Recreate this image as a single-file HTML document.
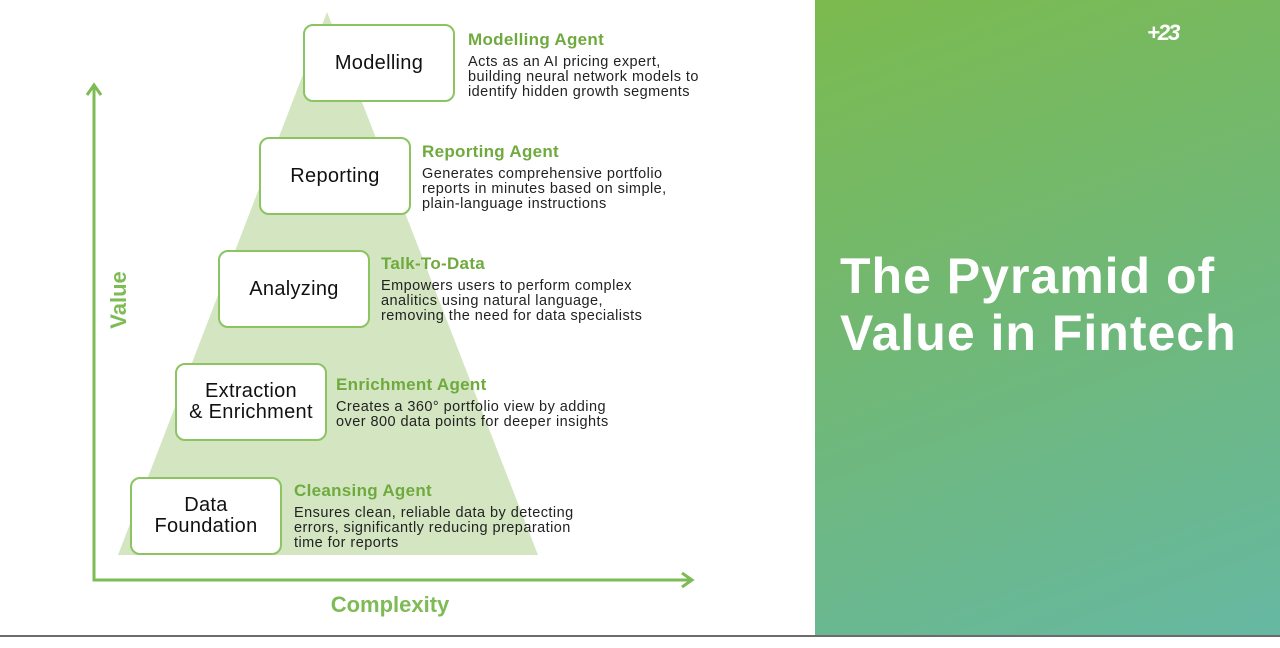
<!DOCTYPE html>
<html><head><style>
body{margin:0;width:1280px;height:648px;position:relative;background:#fff;font-family:"Liberation Sans",sans-serif;overflow:hidden}
.box{position:absolute;width:148px;height:74px;border:2px solid #8cc462;border-radius:10px;background:#fff;display:flex;align-items:center;justify-content:center;text-align:center;font-size:20px;color:#111;line-height:21px;letter-spacing:0.3px}
.t{position:absolute;font-size:14.5px;color:#222;line-height:15px;letter-spacing:0.45px}
.t b{display:block;color:#6faa3f;font-size:17px;margin-bottom:6px;line-height:18px;letter-spacing:0.3px}
</style></head><body>
<svg width="815" height="648" style="position:absolute;left:0;top:0">
<polygon points="327,12 118,555 538,555" fill="#d3e6c1"/>
<g stroke="#7dbb55" stroke-width="3" fill="none">
<polyline points="94,87 94,580 690,580"/>
<polyline points="87,95 94,85 101,95"/>
<polyline points="682,573 692,580 682,587"/>
</g>
<text transform="translate(126,300) rotate(-90)" text-anchor="middle" font-family="Liberation Sans" font-weight="bold" font-size="22" fill="#7dbb55">Value</text>
<text x="390" y="612" text-anchor="middle" font-family="Liberation Sans" font-weight="bold" font-size="22" fill="#7dbb55">Complexity</text>
</svg>
<div class="box" style="left:303px;top:24px">Modelling</div>
<div class="box" style="left:259px;top:137px">Reporting</div>
<div class="box" style="left:218px;top:250px">Analyzing</div>
<div class="box" style="left:175px;top:363px">Extraction<br>&amp; Enrichment</div>
<div class="box" style="left:130px;top:477px">Data<br>Foundation</div>
<div class="t" style="left:468px;top:31px"><b>Modelling Agent</b>Acts as an AI pricing expert,<br>building neural network models to<br>identify hidden growth segments</div>
<div class="t" style="left:422px;top:143px"><b>Reporting Agent</b>Generates comprehensive portfolio<br>reports in minutes based on simple,<br>plain-language instructions</div>
<div class="t" style="left:381px;top:255px"><b>Talk-To-Data</b>Empowers users to perform complex<br>analitics using natural language,<br>removing the need for data specialists</div>
<div class="t" style="left:336px;top:376px"><b>Enrichment Agent</b>Creates a 360° portfolio view by adding<br>over 800 data points for deeper insights</div>
<div class="t" style="left:294px;top:482px"><b>Cleansing Agent</b>Ensures clean, reliable data by detecting<br>errors, significantly reducing preparation<br>time for reports</div>
<div style="position:absolute;left:815px;top:0;width:465px;height:636px;background:linear-gradient(160deg,#7cba4e 0%,#70b878 50%,#66b8a2 100%)">
<div style="position:absolute;left:332px;top:20px;color:#fff;font-weight:bold;font-size:22px;letter-spacing:-2px;font-style:italic">+23</div>
<div style="position:absolute;left:25px;top:248px;color:#fff;font-weight:bold;font-size:50px;line-height:57px;letter-spacing:1px">The Pyramid of<br>Value in Fintech</div>
</div>
<div style="position:absolute;left:0;top:635px;width:1280px;height:2px;background:#6b6b6b"></div>
</body></html>
